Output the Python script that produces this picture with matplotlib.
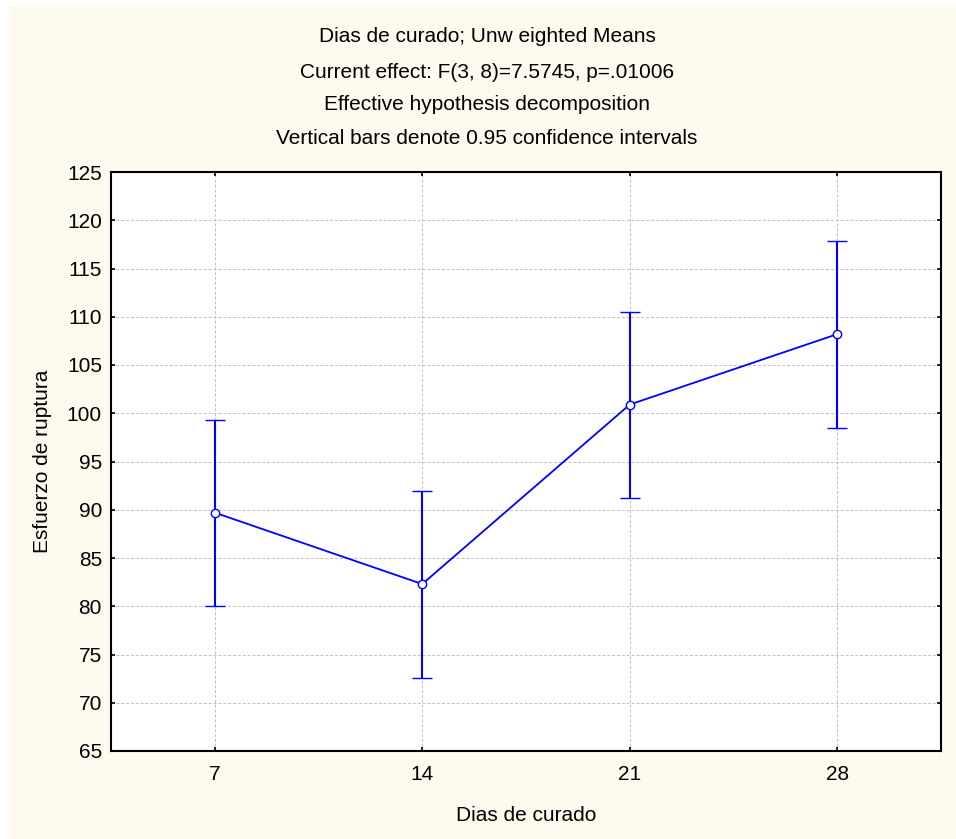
import matplotlib
matplotlib.use("Agg")
import matplotlib.pyplot as plt
from matplotlib.patches import Rectangle

# Data
days = ["7", "14", "21", "28"]
means = [89.7, 82.3, 100.9, 108.2]
lower = [80.0, 72.6, 91.2, 98.5]
upper = [99.3, 91.9, 110.5, 117.85]
yticks = [65, 70, 75, 80, 85, 90, 95, 100, 105, 110, 115, 120, 125]
title_lines = [
    "Dias de curado; Unw eighted Means",
    "Current effect: F(3, 8)=7.5745, p=.01006",
    "Effective hypothesis decomposition",
    "Vertical bars denote 0.95 confidence intervals",
]

plt.rcParams['font.family'] = ['Liberation Sans', 'DejaVu Sans']

W, H = 956, 839
FS = 15
fig = plt.figure(figsize=(W / 100, H / 100), dpi=100)
fig.patch.set_facecolor("white")
bg = Rectangle((9 / W, 0), 1 - 9 / W, 1 - 6 / H, transform=fig.transFigure,
               facecolor="#FFF9EE", edgecolor="none", zorder=-10)
fig.patches.append(bg)

ax = fig.add_axes([111 / W, 1 - 751 / H, (941 - 111) / W, (751 - 172) / H])
ax.set_facecolor("white")

x = list(range(len(days)))
yerr = [[m - l for m, l in zip(means, lower)], [u - m for u, m in zip(upper, means)]]
ax.errorbar(x, means, yerr=yerr, color="#0000FF", lw=1.3, elinewidth=1.5,
            capsize=7.3, capthick=1.6, marker="o", markersize=6,
            markerfacecolor="white", markeredgecolor="#0000FF", markeredgewidth=1.0,
            zorder=3)

ax.set_xlim(-0.5, len(days) - 0.5)
ax.set_ylim(65, 125)
ax.set_xticks(x)
ax.set_xticklabels(days)
ax.set_yticks(yticks)
ax.grid(True, color="#C0C0C0", linestyle=(0, (3, 2)), linewidth=0.7, zorder=0)
ax.set_axisbelow(True)
ax.tick_params(direction="in", length=3, width=1.2, top=True, right=True,
               labelsize=FS, colors="black")
ax.tick_params(axis="y", pad=6.5)
ax.tick_params(axis="x", pad=10)
for s in ax.spines.values():
    s.set_linewidth(1.5)
    s.set_color("black")

ax.set_xlabel("Dias de curado", fontsize=FS, labelpad=16)
ax.set_ylabel("Esfuerzo de ruptura", fontsize=FS, labelpad=11)

baselines = [42, 78, 110, 144]
for t, yy in zip(title_lines, baselines):
    fig.text(487 / W, 1 - yy / H, t, ha="center", va="baseline", fontsize=FS)

fig.savefig("out.png", dpi=100, facecolor=fig.get_facecolor())
